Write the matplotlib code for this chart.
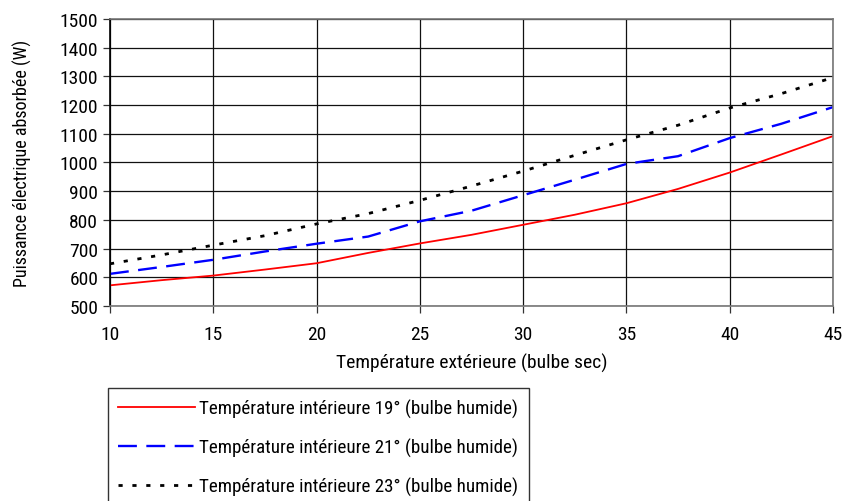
import matplotlib
matplotlib.use("Agg")
import matplotlib.pyplot as plt
from matplotlib import font_manager

fam = "DejaVu Sans"
stretch = "normal"
cands = []
for f in font_manager.fontManager.ttflist:
    st = str(f.stretch)
    if ("Narrow" in f.name or "Condensed" in f.name or st in ("condensed", "semi-condensed", "extra-condensed")) and f.style == "normal":
        cands.append(f)
pref = ["Liberation Sans Narrow", "Roboto Condensed", "Open Sans Condensed", "DejaVu Sans Condensed", "DejaVu Sans"]
chosen = None
for p in pref:
    for f in cands:
        if f.name == p:
            chosen = f
            break
    if chosen:
        break
if chosen is None and cands:
    chosen = cands[0]
if chosen is not None:
    fam = chosen.name
    stretch = chosen.stretch
plt.rcParams['font.family'] = [fam, 'DejaVu Sans']
plt.rcParams['font.stretch'] = stretch

x = [10, 12.5, 15, 17.5, 20, 22.5, 25, 27.5, 30, 32.5, 35, 37.5, 40, 42.5, 45]
t19 = [572, 590, 606, 627, 649, 685, 718, 748, 783, 818, 858, 908, 965, 1028, 1092]
t21 = [612, 636, 661, 690, 717, 742, 795, 832, 886, 940, 995, 1022, 1085, 1135, 1193]
t23 = [647, 678, 712, 745, 786, 822, 868, 918, 970, 1025, 1079, 1130, 1190, 1240, 1296]
labels = ["Température intérieure 19° (bulbe humide)",
          "Température intérieure 21° (bulbe humide)",
          "Température intérieure 23° (bulbe humide)"]
xticks = [10, 15, 20, 25, 30, 35, 40, 45]
yticks = list(range(500, 1501, 100))

fig = plt.figure(figsize=(8.61, 5.02), dpi=100)
ax = fig.add_axes([110/861, 1-307/502, (833-110)/861, (307-20)/502])

ax.plot(x, t19, color='#ff0000', lw=1.3, label=labels[0])
ax.plot(x, t21, color='#0000ff', lw=1.7, dashes=(8, 4), label=labels[1])
ax.plot(x, t23, color='black', lw=2.0, dashes=(1.5, 3.5), label=labels[2])

ax.set_xlim(10, 45)
ax.set_ylim(500, 1500)
ax.set_xticks(xticks)
ax.set_yticks(yticks)
ax.grid(True, color='#111111', lw=0.9)
ax.set_axisbelow(True)
for s in ax.spines.values():
    s.set_color('#777777')
    s.set_linewidth(1.2)
ax.spines['left'].set_color('black')
ax.tick_params(axis='both', labelsize=14, direction='out', length=5, width=0.9, color='#333333')
ax.tick_params(axis='x', pad=9)
ax.set_xlabel("Température extérieure (bulbe sec)", fontsize=14, labelpad=7)
ax.set_ylabel("Puissance électrique absorbée (W)", fontsize=13, labelpad=20)

leg = fig.legend(loc='upper left', bbox_to_anchor=(108/861, 1-389/502), fontsize=13.7,
                 frameon=True, fancybox=False, edgecolor='black', handlelength=4.0,
                 handletextpad=0.25, labelspacing=1.05, borderpad=0.55, borderaxespad=0)
leg.get_frame().set_linewidth(1.0)

fig.savefig("out.png", dpi=100)
